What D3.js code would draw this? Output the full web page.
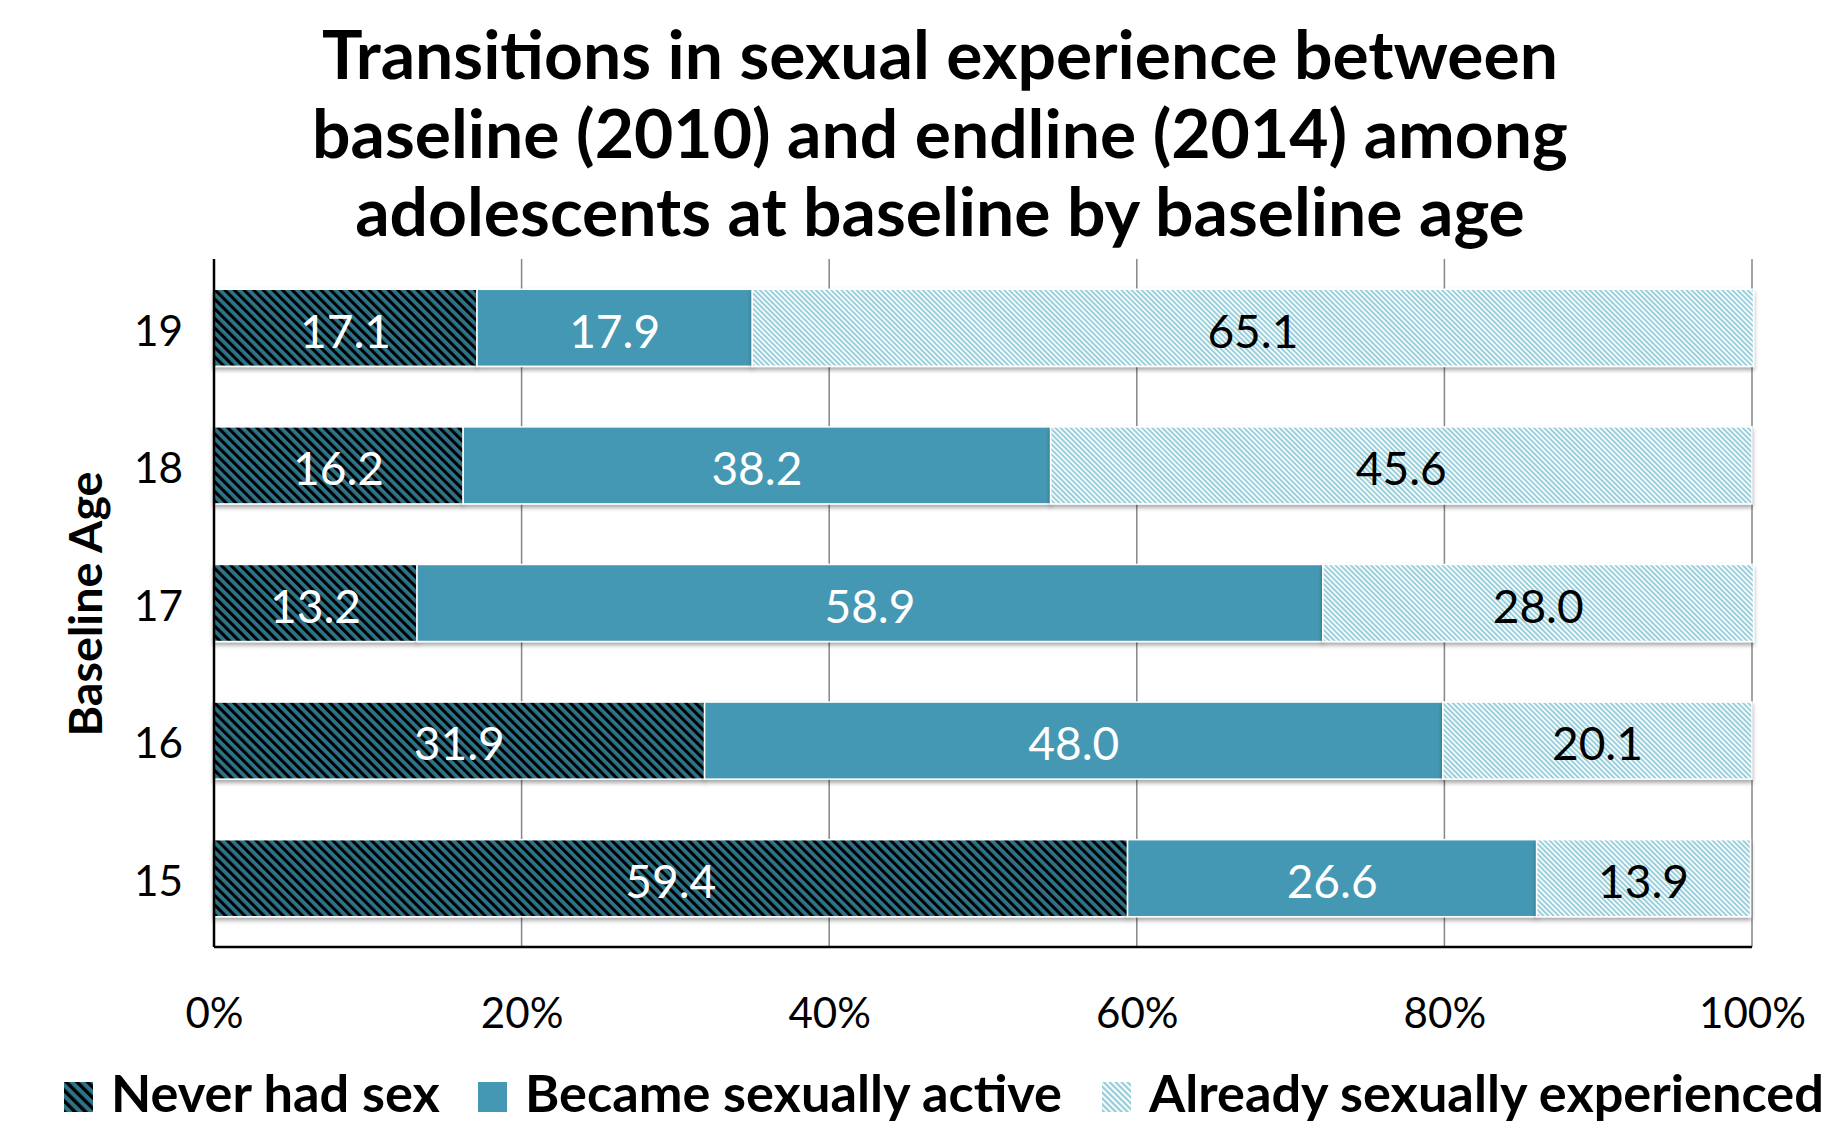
<!DOCTYPE html>
<html><head><meta charset="utf-8">
<script src="https://cdn.jsdelivr.net/npm/d3@7"></script>
<style>body{margin:0;background:#fff}svg{display:block}</style>
</head><body>
<svg id="chart" width="1829" height="1127"></svg>
<script>
// ---- data ----
const ages = ["19", "18", "17", "16", "15"];
const seriesNames = ["Never had sex", "Became sexually active", "Already sexually experienced"];
const neverHadSex = [17.1, 16.2, 13.2, 31.9, 59.4];
const becameActive = [17.9, 38.2, 58.9, 48.0, 26.6];
const alreadyExperienced = [65.1, 45.6, 28.0, 20.1, 13.9];
const xTickValues = [0, 20, 40, 60, 80, 100];
const titleLines = [
  "Transitions in sexual experience between",
  "baseline (2010) and endline (2014) among",
  "adolescents at baseline by baseline age"
];
const yAxisTitle = "Baseline Age";

// ---- setup ----
const FONT = "Lato, 'Open Sans', sans-serif";
const svg = d3.select("#chart");
const plot = {left: 214, right: 1752, top: 259, bottom: 947};

const x = d3.scaleLinear().domain([0, 100]).range([plot.left, plot.right]);
const y = d3.scaleBand().domain(ages).range([plot.top, plot.bottom]).paddingInner(0.44).paddingOuter(0.22);

const stackData = ages.map((a, i) => ({age: a, s0: neverHadSex[i], s1: becameActive[i], s2: alreadyExperienced[i]}));
const series = d3.stack().keys(["s0", "s1", "s2"])(stackData);

// ---- defs ----
const defs = svg.append("defs");
function stripePattern(id, size, bg, fg, frac) {
  const p = defs.append("pattern").attr("id", id).attr("patternUnits", "userSpaceOnUse")
    .attr("width", size).attr("height", size).attr("patternTransform", "rotate(-45)");
  p.append("rect").attr("width", size).attr("height", size).attr("fill", bg);
  p.append("rect").attr("width", size * frac).attr("height", size).attr("fill", fg);
}
stripePattern("patNever", 6.8, "#2D7388", "#000000", 0.45);
stripePattern("patAlready", 3.6, "#ffffff", "#97CEDB", 0.55);
stripePattern("patNeverLeg", 7.5, "#2D7388", "#000000", 0.45);
stripePattern("patAlreadyLeg", 4.2, "#ffffff", "#97CEDB", 0.55);
const f = defs.append("filter").attr("id", "shadow").attr("x", "-5%").attr("y", "-20%").attr("width", "110%").attr("height", "150%");
f.append("feDropShadow").attr("dx", 0).attr("dy", 3).attr("stdDeviation", 2)
  .attr("flood-color", "#000").attr("flood-opacity", 0.35);

const fills = ["url(#patNever)", "#4598B3", "url(#patAlready)"];
const legendFills = ["url(#patNeverLeg)", "#4598B3", "url(#patAlreadyLeg)"];
const labelColors = ["#ffffff", "#ffffff", "#000000"];

// ---- gridlines ----
svg.append("g").selectAll("line").data(xTickValues.slice(1)).join("line")
  .attr("x1", d => x(d)).attr("x2", d => x(d))
  .attr("y1", plot.top).attr("y2", plot.bottom)
  .attr("stroke", "#868686").attr("stroke-width", 1.5);

// ---- bars ----
const gBars = svg.append("g");
series.forEach((s, si) => {
  gBars.append("g").selectAll("rect").data(s).join("rect")
    .attr("x", d => x(d[0]))
    .attr("width", d => x(d[1]) - x(d[0]))
    .attr("y", d => y(d.data.age))
    .attr("height", y.bandwidth())
    .attr("fill", fills[si])
    .attr("stroke", "#ffffff").attr("stroke-width", 1.5)
    .attr("filter", "url(#shadow)");
});

// ---- axes lines ----
svg.append("line").attr("x1", plot.left).attr("x2", plot.left).attr("y1", plot.top).attr("y2", plot.bottom)
  .attr("stroke", "#000").attr("stroke-width", 2.5);
svg.append("line").attr("x1", plot.left).attr("x2", plot.right).attr("y1", plot.bottom).attr("y2", plot.bottom)
  .attr("stroke", "#000").attr("stroke-width", 2.5);

function fitSize(text, weight, target) {
  const t = svg.append("text").attr("font-family", FONT).attr("font-weight", weight)
    .attr("font-size", 100).text(text);
  const w = t.node().getComputedTextLength();
  t.remove();
  return 100 * target / w;
}

// ---- data labels ----
const dlSize = fitSize("59.4", 400, 91);
series.forEach((s, si) => {
  svg.append("g").selectAll("text").data(s).join("text")
    .attr("x", d => (x(d[0]) + x(d[1])) / 2)
    .attr("y", d => y(d.data.age) + y.bandwidth() / 2)
    .attr("dy", "0.43em")
    .attr("text-anchor", "middle")
    .attr("font-family", FONT).attr("font-size", dlSize)
    .attr("fill", labelColors[si])
    .text(d => (d[1] - d[0]).toFixed(1));
});

// ---- x axis tick labels ----
const tickSize = fitSize("100%", 400, 107);
const xAxis = d3.axisBottom(x).tickValues(xTickValues).tickFormat(d => d + "%").tickSize(0).tickPadding(0);
const gx = svg.append("g").attr("transform", `translate(0,${plot.bottom})`).call(xAxis);
gx.select(".domain").remove();
gx.selectAll("text").attr("font-family", FONT).attr("font-size", tickSize).attr("fill", "#000")
  .attr("dy", null).attr("y", 1028 - plot.bottom);

// ---- y axis category labels ----
const catSize = fitSize("19", 400, 49);
const yAxis = d3.axisLeft(y).tickSize(0).tickPadding(31);
const gy = svg.append("g").attr("transform", `translate(${plot.left},0)`).call(yAxis);
gy.select(".domain").remove();
gy.selectAll("text").attr("font-family", FONT).attr("font-size", catSize).attr("fill", "#000")
  .attr("dy", "0.42em");

// ---- y axis title ----
const ytSize = fitSize(yAxisTitle, 700, 265);
svg.append("text").attr("transform", "translate(102,604) rotate(-90)")
  .attr("text-anchor", "middle").attr("font-family", FONT).attr("font-weight", 700)
  .attr("font-size", ytSize).attr("fill", "#000").text(yAxisTitle);

// ---- title ----
const titleSize = fitSize(titleLines[1], 700, 1256);
svg.append("g").selectAll("text").data(titleLines).join("text")
  .attr("x", 940).attr("y", (d, i) => 79 + i * 78.5)
  .attr("text-anchor", "middle").attr("font-family", FONT).attr("font-weight", 700)
  .attr("font-size", titleSize).attr("fill", "#000").text(d => d);

// ---- legend ----
const legSize = fitSize(seriesNames[2], 700, 675);
const legendX = [64, 478, 1102];
const lg = svg.append("g").selectAll("g").data(seriesNames).join("g")
  .attr("transform", (d, i) => `translate(${legendX[i]},1082)`);
lg.append("rect").attr("width", 29).attr("height", 30).attr("fill", (d, i) => legendFills[i]);
lg.append("text").attr("x", 47).attr("y", 30).attr("font-family", FONT).attr("font-weight", 700)
  .attr("font-size", legSize).attr("fill", "#000").text(d => d);
</script>
</body></html>
